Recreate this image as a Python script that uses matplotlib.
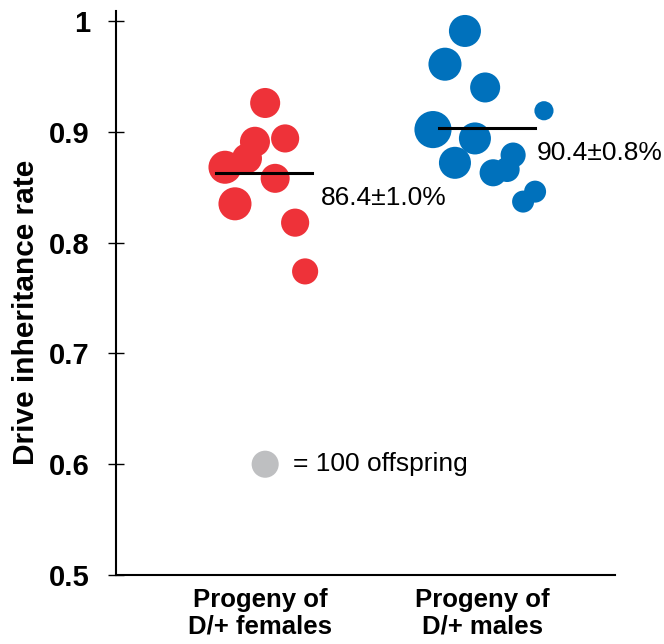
import matplotlib
matplotlib.use('Agg')
import matplotlib.pyplot as plt

plt.rcParams['font.family'] = ['Liberation Sans', 'DejaVu Sans']

# categories
groups = ['Progeny of\nD/+ females', 'Progeny of\nD/+ males']
group_pos = [1, 2]

# D/+ females : jittered x, inheritance rate, offspring counted
fem_x = [1.023, 0.977, 1.113, 0.941, 0.842, 1.068, 0.887, 1.158, 1.203]
fem_rate = [0.926, 0.891, 0.894, 0.876, 0.868, 0.858, 0.835, 0.818, 0.774]
fem_n = [123, 123, 108, 123, 149, 115, 149, 108, 93]
fem_mean = 0.863
fem_label = '86.4±1.0%'

# D/+ males
male_x = [1.923, 1.833, 2.014, 2.279, 1.779, 1.968, 1.878, 2.140, 2.050, 2.113, 2.239, 2.185]
male_rate = [0.991, 0.961, 0.940, 0.919, 0.902, 0.894, 0.872, 0.879, 0.863, 0.866, 0.846, 0.837]
male_n = [140, 149, 123, 50, 188, 140, 140, 86, 100, 86, 66, 66]
male_mean = 0.903
male_label = '90.4±0.8%'

ref_n = 100
yticks = [0.5, 0.6, 0.7, 0.8, 0.9, 1.0]
ytick_labels = ['0.5', '0.6', '0.7', '0.8', '0.9', '1']

RED = '#EE3239'
BLUE = '#0071BC'
GREY = '#BEBFC1'
s_per_100 = 380  # marker area (pt^2) for 100 offspring


def sizes(counts):
    return [c / 100 * s_per_100 for c in counts]


fig = plt.figure(figsize=(6.64, 6.44), dpi=100)
ax = fig.add_axes([0.1747, 0.1071, 0.7515, 0.8758])

ax.scatter(fem_x, fem_rate, s=sizes(fem_n), color=RED, edgecolors='none', zorder=2)
ax.scatter(male_x, male_rate, s=sizes(male_n), color=BLUE, edgecolors='none', zorder=2)

# mean lines
ax.plot([0.802, 1.234], [fem_mean, fem_mean], color='black', lw=2.2, zorder=3)
ax.plot([1.806, 2.239], [male_mean, male_mean], color='black', lw=2.2, zorder=3)
ax.text(1.275, 0.840, fem_label, fontsize=19, va='center', ha='left')
ax.text(2.248, 0.881, male_label, fontsize=19, va='center', ha='left')

# size key
ax.scatter([1.023], [0.600], s=sizes([ref_n]), color=GREY, edgecolors='none')
ax.text(1.149, 0.600, '= 100 offspring', fontsize=19, va='center', ha='left')

ax.set_xlim(0.351, 2.599)
ax.set_ylim(0.5, 1.009)
ax.set_yticks(yticks)
ax.set_yticklabels(ytick_labels, fontsize=21, fontweight='bold')
ax.set_xticks(group_pos)
ax.set_xticklabels(groups, fontsize=18.5, fontweight='bold', linespacing=1.15)
ax.tick_params(axis='y', direction='inout', length=11.5, width=1, pad=13)
ax.tick_params(axis='x', length=0, pad=9)

for side in ['top', 'right']:
    ax.spines[side].set_visible(False)
for side in ['left', 'bottom']:
    ax.spines[side].set_linewidth(1.5)

fig.text(26 / 664, 1 - 312 / 644, 'Drive inheritance rate', rotation=90,
         fontsize=21.5, fontweight='bold', ha='center', va='center')

fig.savefig('out.png', dpi=100)
